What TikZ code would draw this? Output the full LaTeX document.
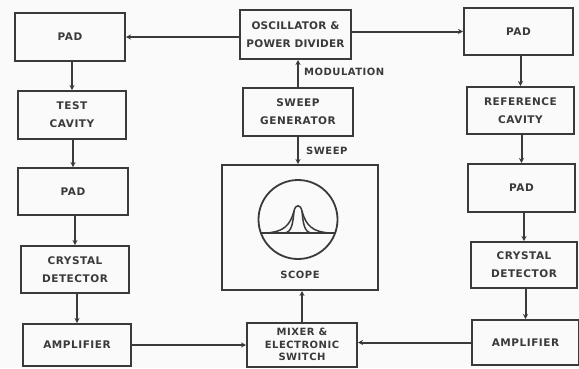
\documentclass[tikz,border=0pt]{standalone}
\usepackage{fontspec}
\usetikzlibrary{arrows.meta}
\newfontfamily\lblfont[LetterSpace=5]{DejaVu Sans Bold}
\newfontfamily\lblfontn[LetterSpace=2]{DejaVu Sans Bold}
\definecolor{ink}{HTML}{3A3A3A}
\definecolor{paper}{HTML}{FAFAFA}
\tikzset{
  blk/.style={draw=ink, line width=2pt, rectangle, inner sep=0pt, align=center,
    font=\lblfont\fontsize{10.5}{18}\selectfont, text=ink},
  conn/.style={draw=ink, line width=2pt, -{Stealth[length=5pt,width=5pt]}},
  lbl/.style={font=\lblfont\fontsize{10}{11}\selectfont, text=ink, inner sep=0pt},
}
\begin{document}
\begin{tikzpicture}[x=1pt,y=-1pt]
\fill[paper] (0,0) rectangle (579,368);
\useasboundingbox (0,0) rectangle (579,368);
% left column
\node[blk, minimum width=110pt, minimum height=48pt] (padL) at (70,37) {PAD};
\node[blk, minimum width=108pt, minimum height=48pt] (testL) at (72,115) {TEST\\CAVITY};
\node[blk, minimum width=110pt, minimum height=47pt] (pad2L) at (73,191.5) {PAD};
\node[blk, minimum width=108pt, minimum height=47pt] (crysL) at (75,269.5) {CRYSTAL\\DETECTOR};
\node[blk, minimum width=108pt, minimum height=42pt] (ampL) at (77,345) {AMPLIFIER};
% centre column
\node[blk, minimum width=111pt, minimum height=49pt, font=\lblfontn\fontsize{10.5}{18}\selectfont] (osc) at (295.5,34.5) {OSCILLATOR \&\\POWER DIVIDER};
\node[blk, minimum width=110pt, minimum height=48pt] (sweep) at (298,112) {SWEEP\\GENERATOR};
\node[blk, minimum width=156pt, minimum height=125pt] (scope) at (300,227.5) {};
\node[lbl] (scopelbl) at (300,275) {SCOPE};
\node[blk, minimum width=110pt, minimum height=44pt, font=\lblfont\fontsize{10}{12.5}\selectfont] (mixer) at (302,344.5) {MIXER \&\\ELECTRONIC\\SWITCH};
% right column
\node[blk, minimum width=109pt, minimum height=47pt] (padR) at (518.5,31.5) {PAD};
\node[blk, minimum width=107pt, minimum height=47pt] (refR) at (520.5,110.5) {REFERENCE\\CAVITY};
\node[blk, minimum width=107pt, minimum height=48pt] (pad2R) at (521.5,188) {PAD};
\node[blk, minimum width=106pt, minimum height=46pt] (crysR) at (524,265) {CRYSTAL\\DETECTOR};
\node[blk, minimum width=107pt, minimum height=45pt] (ampR) at (525.5,342.5) {AMPLIFIER};
% scope screen
\draw[ink, line width=1.8pt] (298,219.5) circle[radius=39.5];
\draw[ink, line width=1.6pt] (261,233) -- (335,233);
\draw[ink, line width=1.5pt] (266,233) .. controls (283,232) and (290,226) .. (294,211)
  .. controls (295.5,204) and (300.5,204) .. (302,211)
  .. controls (306,226) and (313,232) .. (330,233);
\draw[ink, line width=1.5pt] (284,233) .. controls (292,233) and (293,222) .. (294,211);
\draw[ink, line width=1.5pt] (302,211) .. controls (303,222) and (304,233) .. (312,233);
% connectors
\draw[conn] (osc.west |- padL.east) -- (padL.east);
\draw[conn] (osc.east |- padR.west) -- (padR.west);
\draw[conn] (testL.north |- padL.south) -- (testL.north);
\draw[conn] (pad2L.north |- testL.south) -- (pad2L.north);
\draw[conn] (crysL.north |- pad2L.south) -- (crysL.north);
\draw[conn] (ampL.north |- crysL.south) -- (ampL.north);
\draw[conn] (refR.north |- padR.south) -- (refR.north);
\draw[conn] (pad2R.north |- refR.south) -- (pad2R.north);
\draw[conn] (crysR.north |- pad2R.south) -- (crysR.north);
\draw[conn] (ampR.north |- crysR.south) -- (ampR.north);
\draw[conn] (sweep.north) -- (sweep.north |- osc.south);
\draw[conn] (sweep.south) -- (sweep.south |- scope.north);
\draw[conn] (mixer.north) -- (mixer.north |- scope.south);
\draw[conn] (ampL.east) -- (ampL.east -| mixer.west);
\draw[conn] (ampR.west) -- (ampR.west -| mixer.east);
% labels
\node[lbl, anchor=west] (modlbl) at (304,72) {MODULATION};
\node[lbl, anchor=west] (swplbl) at (306,151) {SWEEP};
\end{tikzpicture}
\end{document}
